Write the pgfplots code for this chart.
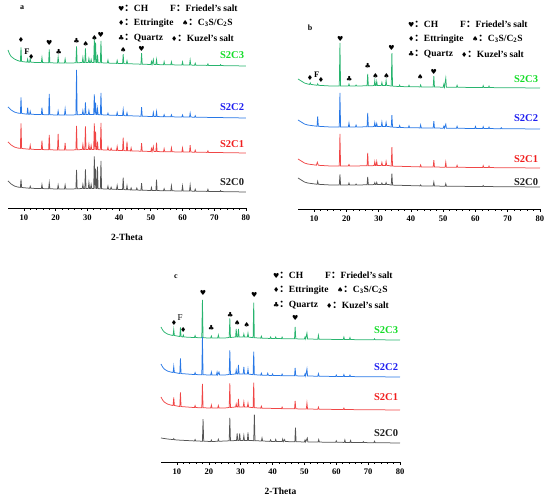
\documentclass[border=0pt]{standalone}
\usepackage{fontspec}
\setmainfont{Liberation Serif}
\newfontfamily\sym{DejaVu Sans}
\newfontfamily\cjk{Noto Sans CJK SC}
\usepackage{pgfplots}
\pgfplotsset{compat=1.18}
\definecolor{lg}{RGB}{40,180,110}
\definecolor{lb}{RGB}{40,120,230}
\definecolor{lr}{RGB}{240,70,70}
\definecolor{lk}{RGB}{85,85,85}
\definecolor{tg}{RGB}{20,220,40}
\definecolor{tb}{RGB}{30,30,240}
\definecolor{tr}{RGB}{240,30,30}
\definecolor{tk}{RGB}{30,30,30}
\pgfplotsset{xrd/.style={
  scale only axis, clip=false, xmin=5, xmax=80, ymin=0,
  axis x line*=bottom, axis y line=none,
  xtick={10,20,...,80}, minor x tick num=4,
  tick align=outside, major tick length=3pt, minor tick length=1.6pt,
  every tick/.style={black, line width=0.6pt},
  axis line style={black, line width=0.7pt},
  xticklabel style={font=\bfseries\fontsize{8.5}{9}\selectfont, yshift=-0.5pt},
  /pgf/number format/assume math mode=true,
  every axis plot/.append style={line width=0.75pt},
  xlabel style={font=\bfseries\fontsize{9.5}{10}\selectfont, at={(axis description cs:0.5,0)}, anchor=center, yshift=-29pt},
}}
\newcommand{\msym}[1]{{\sym\fontsize{7}{7}\selectfont #1}}
\newcommand{\lab}{\bfseries\fontsize{10.5}{11}\selectfont}
\newcommand{\xrdleg}[2]{%
  \begin{scope}[shift={(#1pt,#2pt)}, every node/.style={anchor=west, inner sep=0pt, font=\bfseries\fontsize{9.5}{10}\selectfont}]
    \node at (0pt,0pt) {\msym{♥}{\cjk：}CH};
    \node at (52pt,0pt) {F{\cjk：}Friedel's salt};
    \node at (0pt,-15pt) {\msym{♦}{\cjk：}Ettringite};
    \node at (64pt,-15pt) {\msym{♠}{\cjk：}C\textsubscript{3}S/C\textsubscript{2}S};
    \node at (0pt,-30pt) {\msym{♣}{\cjk：}Quartz};
    \node at (53pt,-30pt) {\msym{♦}{\cjk：}Kuzel's salt};
  \end{scope}}
\begin{document}
\begin{tikzpicture}
\useasboundingbox (0,0) rectangle (550pt,497pt);
% ================= panel a =================
\begin{axis}[xrd, at={(8pt,289pt)}, anchor=south west, width=238pt, height=208pt, ymax=208, xlabel={2-Theta}]
\addplot[lg, yshift=142pt] coordinates {(5,16)(5.5,12)(6,9.5)(7,7)(8,5.5)
(8.9,4.6)(9.1,18.5)(9.3,4.5)(11.0,3.8)(11.2,6.8)(11.4,3.8)(11.8,3.75)(12.0,7.7)(12.2,3.75)(14,3.5)
(15.5,3.4)(15.7,8.4)(15.9,3.4)(17.8,3.2)(18.0,16.7)(18.2,3.2)(20.6,3)(20.8,9)(21.0,3)
(22.8,3)(23.0,7)(23.2,3)(25,3)(26.4,3.2)(26.6,19.7)(26.8,3.2)(28.4,3.5)(28.6,8.5)(28.8,3.5)
(29.2,3.5)(29.4,17.5)(29.6,3.5)(30.3,3.5)(30.5,7.5)(30.7,3.5)(31.0,3.5)(31.2,6.5)(31.4,3.5)
(32.0,3.5)(32.2,27.5)(32.4,3.5)(32.6,23.4)(32.8,3.4)(33.0,3.4)(33.2,11.4)(33.4,3.4)
(34.1,3.2)(34.3,25.2)(34.5,3.2)(36.3,2.9)(36.5,5.9)(36.7,2.9)(39.2,2.6)(39.4,5.6)(39.6,2.6)
(41.1,2.4)(41.3,11.9)(41.5,2.4)(42.3,2.3)(42.5,5.3)(42.7,2.3)(46.9,1.8)(47.1,12.8)(47.3,1.8)
(50.0,1.5)(50.2,4.5)(50.4,1.5)(50.8,6.5)(51.0,1.45)(51.6,1.4)(51.8,6.4)(52.0,1.4)
(54.0,1.3)(54.2,4.3)(54.4,1.3)(56.3,1.15)(56.5,4.2)(56.7,1.15)(59.8,1)(60,4)(60.2,1)
(62.2,0.9)(62.4,5.9)(62.6,0.9)(63.8,0.8)(64,2.8)(64.2,0.8)(67.8,0.6)(68,2.1)(68.2,0.6)
(71.8,0.4)(72,1.4)(72.2,0.4)(80,0)};
\addplot[lb, yshift=90pt] coordinates {(5,11)(6,8)(7,6)(8,5)
(8.9,4.6)(9.1,20.5)(9.3,4.5)(11.0,3.8)(11.2,10.3)(11.4,3.8)(11.8,3.75)(12.0,6.7)(12.2,3.75)(14,3.5)
(15.5,3.4)(15.7,10.4)(15.9,3.4)(17.8,3.2)(18.0,24.2)(18.2,3.2)(20.6,3)(20.8,7)(21.0,3)
(22.8,3)(23.0,9)(23.2,3)(25,3)(26.4,3.2)(26.6,48.2)(26.8,3.2)(28.4,3.5)(28.6,7.5)(28.8,3.5)
(29.2,3.5)(29.4,15.5)(29.6,3.5)(30.3,3.5)(30.5,7.5)(30.7,3.5)
(32.0,3.5)(32.2,23.5)(32.4,3.5)(32.6,15.4)(32.8,3.4)(33.0,3.4)(33.2,9.4)(33.4,3.4)
(34.1,3.2)(34.3,25.2)(34.5,3.2)(36.3,2.9)(36.5,4.9)(36.7,2.9)(39.2,2.6)(39.4,5.6)(39.6,2.6)
(41.1,2.4)(41.3,8.4)(41.5,2.4)(42.3,2.3)(42.5,5.3)(42.7,2.3)(46.9,1.8)(47.1,10.8)(47.3,1.8)
(50.6,1.45)(50.8,5.5)(51.0,1.45)(51.6,1.4)(51.8,6.4)(52.0,1.4)(54.0,1.3)(54.2,3.3)(54.4,1.3)
(56.3,1.15)(56.5,3.2)(56.7,1.15)(59.8,1)(60,3)(60.2,1)(62.2,0.9)(62.4,4.9)(62.6,0.9)
(63.8,0.8)(64,2.3)(64.2,0.8)(80,0)};
\addplot[lr, yshift=55pt] coordinates {(5,11)(6,8)(7,6)(8,5)
(8.9,4.6)(9.1,29.5)(9.3,4.5)(11.8,3.75)(12.0,7.7)(12.2,3.75)(14,3.5)
(15.5,3.4)(15.7,12.4)(15.9,3.4)(17.8,3.2)(18.0,18.2)(18.2,3.2)(20.6,3)(20.8,19)(21.0,3)
(22.8,3)(23.0,10)(23.2,3)(25,3)(26.4,3.2)(26.6,27.2)(26.8,3.2)(28.4,3.5)(28.6,8.5)(28.8,3.5)
(29.2,3.5)(29.4,26.5)(29.6,3.5)(30.3,3.5)(30.5,8.5)(30.7,3.5)(31.0,3.5)(31.2,7.5)(31.4,3.5)
(32.0,3.5)(32.2,29.5)(32.4,3.5)(32.6,21.4)(32.8,3.4)(33.0,3.4)(33.2,11.4)(33.4,3.4)
(34.1,3.2)(34.3,30.2)(34.5,3.2)(36.3,2.9)(36.5,5.9)(36.7,2.9)(37.3,2.8)(37.5,4.8)(37.7,2.8)
(39.2,2.6)(39.4,6.6)(39.6,2.6)(41.1,2.4)(41.3,15.4)(41.5,2.4)(42.3,2.3)(42.5,11.3)(42.7,2.3)
(43.6,2.1)(43.8,5.1)(44.0,2.1)(46.9,1.8)(47.1,9.8)(47.3,1.8)
(50.0,1.5)(50.2,4.5)(50.4,1.5)(50.8,6.5)(51.0,1.45)(51.6,1.4)(51.8,10.4)(52.0,1.4)
(54.0,1.3)(54.2,4.3)(54.4,1.3)(56.3,1.15)(56.5,5.2)(56.7,1.15)(59.8,1)(60,5)(60.2,1)
(62.2,0.9)(62.4,7.9)(62.6,0.9)(63.8,0.8)(64,2.8)(64.2,0.8)(67.8,0.6)(68,2.1)(68.2,0.6)(80,0)};
\addplot[lk, yshift=16pt] coordinates {(5,11)(6,8)(7,6)(8,5)
(8.9,4.6)(9.1,12.5)(9.3,4.5)(11.8,3.75)(12.0,5.7)(12.2,3.75)(14,3.5)
(15.5,3.4)(15.7,7.4)(15.9,3.4)(17.8,3.2)(18.0,9.2)(18.2,3.2)(20.6,3)(20.8,7)(21.0,3)
(22.8,3)(23.0,7)(23.2,3)(25,3)(26.4,3.2)(26.6,22.2)(26.8,3.2)(28.4,3.5)(28.6,7.5)(28.8,3.5)
(29.2,3.5)(29.4,22.5)(29.6,3.5)(30.3,3.5)(30.5,9.5)(30.7,3.5)(31.0,3.5)(31.2,7.5)(31.4,3.5)
(32.0,3.5)(32.2,35.5)(32.4,3.5)(32.6,23.4)(32.8,3.4)(33.0,3.4)(33.2,25.4)(33.4,3.4)
(34.1,3.2)(34.3,31.2)(34.5,3.2)(36.3,2.9)(36.5,5.9)(36.7,2.9)(37.3,2.8)(37.5,4.8)(37.7,2.8)
(39.2,2.6)(39.4,6.6)(39.6,2.6)(41.1,2.4)(41.3,14.4)(41.5,2.4)(42.3,2.3)(42.5,6.3)(42.7,2.3)
(43.6,2.1)(43.8,4.1)(44.0,2.1)(45.4,1.9)(45.6,3.9)(45.8,1.9)(46.9,1.8)(47.1,8.8)(47.3,1.8)
(50.0,1.5)(50.2,4.5)(50.4,1.5)(51.6,1.4)(51.8,12.4)(52.0,1.4)(54.0,1.3)(54.2,3.3)(54.4,1.3)
(56.3,1.15)(56.5,6.2)(56.7,1.15)(59.8,1)(60,6)(60.2,1)(62.2,0.9)(62.4,6.9)(62.6,0.9)
(63.8,0.8)(64,2.8)(64.2,0.8)(67.8,0.6)(68,2.6)(68.2,0.6)(71.8,0.4)(72,1.4)(72.2,0.4)(80,0)};
\node[anchor=east, text=tg, font=\lab] at (axis cs:80.5,153) {S2C3};
\node[anchor=east, text=tb, font=\lab] at (axis cs:80.5,101) {S2C2};
\node[anchor=east, text=tr, font=\lab] at (axis cs:80.5,64) {S2C1};
\node[anchor=east, text=tk, font=\lab] at (axis cs:80.5,26) {S2C0};
\node at (axis cs:9.1,168) {\msym{♦}};
\node[font=\bfseries\fontsize{8.5}{9}\selectfont] at (axis cs:11.0,156) {F};
\node at (axis cs:12.3,151) {\msym{♦}};
\node at (axis cs:18.0,165) {\msym{♥}};
\node at (axis cs:21.0,156) {\msym{♣}};
\node at (axis cs:26.6,167) {\msym{♣}};
\node at (axis cs:29.5,164) {\msym{♠}};
\node at (axis cs:32.3,170) {\msym{♠}};
\node at (axis cs:34.2,173) {\msym{♥}};
\node at (axis cs:41.3,158) {\msym{♠}};
\node at (axis cs:47.1,159) {\msym{♥}};
\end{axis}
% ================= panel b =================
\begin{axis}[xrd, at={(298pt,288pt)}, anchor=south west, width=242pt, height=209pt, ymax=209]
\addplot[lg, yshift=121pt] coordinates {(5,9)(6,7)(7,5)(8,4)
(8.6,3.6)(8.8,5.1)(9.0,3.6)(10.9,2.7)(11.1,4.2)(11.3,2.7)(15,2)
(17.8,2)(18.0,45)(18.2,2)(20.6,2)(20.8,4)(21.0,2)(22.8,2)(23.0,3)(23.2,2)
(26.4,2.2)(26.6,14.2)(26.8,2.2)(28.6,2.4)(28.8,7.4)(29.0,2.4)(29.2,2.45)(29.4,6.5)(29.6,2.45)
(30.8,2.5)(31.0,5.5)(31.2,2.5)(32.1,2.5)(32.3,7.5)(32.5,2.5)(33,2.5)
(33.9,1.9)(34.1,34.9)(34.3,1.9)(36.3,1.45)(36.5,2.95)(36.7,1.45)(39.2,1.25)(39.4,2.75)(39.6,1.25)
(42.8,1.1)(43.0,3.1)(43.2,1.1)(46.9,0.93)(47.1,11.9)(47.3,0.93)
(50.0,0.83)(50.2,3.8)(50.4,0.83)(50.8,9.8)(51.0,0.8)(54.1,0.7)(54.3,2.7)(54.5,0.7)
(62.2,0.44)(62.4,2.4)(62.6,0.44)(64.0,0.4)(64.2,1.9)(64.4,0.4)(80,0)};
\addplot[lb, yshift=80pt] coordinates {(5,9)(6,7)(7,5)(8,4)
(10.9,2.7)(11.1,12.7)(11.3,2.7)(15,2)
(17.8,2)(18.0,36)(18.2,2)(20.6,2)(20.8,6)(21.0,2)(22.8,2)(23.0,4)(23.2,2)
(26.4,2.2)(26.6,16.2)(26.8,2.2)(28.6,2.4)(28.8,6.4)(29.0,2.4)(29.2,2.45)(29.4,5.5)(29.6,2.45)
(30.8,2.5)(31.0,7)(31.2,2.5)(32.1,2.5)(32.3,6.5)(32.5,2.5)(33,2.5)
(33.9,1.9)(34.1,13.9)(34.3,1.9)(36.3,1.45)(36.5,3.45)(36.7,1.45)(39.2,1.25)(39.4,3.25)(39.6,1.25)
(42.8,1.1)(43.0,4.1)(43.2,1.1)(46.9,0.93)(47.1,7.9)(47.3,0.93)
(50.0,0.83)(50.2,2.8)(50.4,0.83)(50.8,4.8)(51.0,0.8)(54.1,0.7)(54.3,2.7)(54.5,0.7)
(59.8,0.5)(60,2.5)(60.2,0.5)(62.2,0.44)(62.4,2.4)(62.6,0.44)(64.0,0.4)(64.2,1.9)(64.4,0.4)
(67.8,0.3)(68,1.3)(68.2,0.3)(80,0)};
\addplot[lr, yshift=41pt] coordinates {(5,9)(6,7)(7,5)(8,4)
(10.7,2.8)(11.0,5.7)(11.3,2.7)(15,2)
(17.8,2)(18.0,34)(18.2,2)(20.6,2)(20.8,3.5)(21.0,2)
(26.4,2.2)(26.6,15.2)(26.8,2.2)(28.6,2.4)(28.8,6.4)(29.0,2.4)(29.2,2.45)(29.4,6.5)(29.6,2.45)
(30.8,2.5)(31.0,5.5)(31.2,2.5)(32.1,2.5)(32.3,6.5)(32.5,2.5)(33,2.5)
(33.9,1.9)(34.1,20.9)(34.3,1.9)(42.8,1.1)(43.0,3.1)(43.2,1.1)(46.9,0.93)(47.1,7.9)(47.3,0.93)
(50.6,0.8)(50.8,5.8)(51.0,0.8)(54.1,0.7)(54.3,2.7)(54.5,0.7)
(62.2,0.44)(62.4,2.4)(62.6,0.44)(64.0,0.4)(64.2,1.9)(64.4,0.4)(80,0)};
\addplot[lk, yshift=22pt] coordinates {(5,9)(6,7)(7,5)(8,4)
(10.9,2.7)(11.1,5.7)(11.3,2.7)(15,2)
(17.8,2)(18.0,12.5)(18.2,2)(20.6,2)(20.8,4)(21.0,2)(22.8,2)(23.0,3)(23.2,2)
(26.4,2.2)(26.6,10.2)(26.8,2.2)(28.6,2.4)(28.8,4.4)(29.0,2.4)(29.2,2.45)(29.4,4.5)(29.6,2.45)
(30.8,2.5)(31.0,4)(31.2,2.5)(32.1,2.5)(32.3,4.5)(32.5,2.5)(33,2.5)
(33.9,1.9)(34.1,13.4)(34.3,1.9)(42.8,1.1)(43.0,2.1)(43.2,1.1)(46.9,0.93)(47.1,4.9)(47.3,0.93)
(50.6,0.8)(50.8,3.3)(51.0,0.8)(62.2,0.44)(62.4,1.4)(62.6,0.44)(80,0)};
\node[anchor=east, text=tg, font=\lab] at (axis cs:80.5,130) {S2C3};
\node[anchor=east, text=tb, font=\lab] at (axis cs:80.5,91) {S2C2};
\node[anchor=east, text=tr, font=\lab] at (axis cs:80.5,50) {S2C1};
\node[anchor=east, text=tk, font=\lab] at (axis cs:80.5,27) {S2C0};
\node at (axis cs:8.7,131) {\msym{♦}};
\node[font=\bfseries\fontsize{8.5}{9}\selectfont] at (axis cs:10.8,134) {F};
\node at (axis cs:12.1,129) {\msym{♦}};
\node at (axis cs:18.1,170) {\msym{♥}};
\node at (axis cs:20.9,130) {\msym{♣}};
\node at (axis cs:26.6,143) {\msym{♣}};
\node at (axis cs:29.0,133) {\msym{♠}};
\node at (axis cs:32.4,133) {\msym{♠}};
\node at (axis cs:34.0,161) {\msym{♥}};
\node at (axis cs:42.9,132) {\msym{♠}};
\node at (axis cs:47.1,137) {\msym{♥}};
\end{axis}
% ================= panel c =================
\begin{axis}[xrd, at={(161pt,35pt)}, anchor=south west, width=239pt, height=212pt, ymax=212, xlabel={2-Theta}]
\addplot[lg, yshift=122pt] coordinates {(5,13)(5.5,10)(6,8)(7,6)(8,5)
(8.8,4.5)(9.0,10.5)(9.2,4.5)(10.9,3.45)(11.1,12.5)(11.3,3.45)(11.8,3)(12.0,5)(12.2,3)
(15.5,2.43)(15.7,4.4)(15.9,2.43)(17.8,2.2)(18.0,40)(18.2,2.2)(20.6,2)(20.8,4)(21.0,2)
(22.8,2)(23.0,5)(23.2,2)(25,2)(26.4,2.5)(26.6,21.5)(26.8,2.5)(28.4,3)(28.6,11)(28.8,3)
(29.1,3)(29.3,11)(29.5,3)(30.8,3)(31.0,6)(31.2,3)(32.1,2.9)(32.3,6.9)(32.5,2.9)
(33.9,2.3)(34.1,37.3)(34.3,2.3)(36.3,1.85)(36.5,3.85)(36.7,1.85)(39.2,1.55)(39.4,3)(39.6,1.55)
(40.8,1.45)(41.0,3)(41.2,1.45)(42.8,1.35)(43.0,2.9)(43.2,1.35)(46.9,1.15)(47.1,13.2)(47.3,1.15)
(50.0,1)(50.2,3)(50.4,1)(50.8,7)(51.0,0.96)(54.2,0.8)(54.4,4.8)(54.6,0.8)
(62.2,0.44)(62.4,2.9)(62.6,0.44)(64.1,0.4)(64.3,2.4)(64.5,0.4)(71.8,0.2)(72,1.2)(72.2,0.2)(80,0)};
\addplot[lb, yshift=85pt] coordinates {(5,13)(5.5,10)(6,8)(7,6)(8,5)
(8.8,4.5)(9.0,10.5)(9.2,4.5)(10.9,3.45)(11.1,18.5)(11.3,3.45)
(15.5,2.43)(15.7,4.4)(15.9,2.43)(17.8,2.2)(18.0,40)(18.2,2.2)(20.6,2)(20.8,5)(21.0,2)
(22.4,2)(22.6,5)(22.8,2)(23.2,5)(23.4,2)(25,2)(26.4,2.5)(26.6,26.5)(26.8,2.5)(28.4,3)(28.6,7)(28.8,3)
(29.1,3)(29.3,12)(29.5,3)(30.8,3)(31.0,10)(31.2,3)(32.1,2.9)(32.3,7.9)(32.5,2.9)
(33.9,2.3)(34.1,25.3)(34.3,2.3)(36.3,1.85)(36.5,3.85)(36.7,1.85)(38.3,1.65)(38.5,3.65)(38.7,1.65)
(39.8,1.5)(40.0,3)(40.2,1.5)(42.8,1.35)(43.0,2.9)(43.2,1.35)(46.9,1.15)(47.1,9.2)(47.3,1.15)
(50.0,1)(50.2,3)(50.4,1)(50.8,8)(51.0,0.96)(54.2,0.8)(54.4,3.3)(54.6,0.8)
(59.8,0.5)(60,2)(60.2,0.5)(62.2,0.44)(62.4,2.4)(62.6,0.44)(64.1,0.4)(64.3,1.9)(64.5,0.4)(80,0)};
\addplot[lr, yshift=52pt] coordinates {(5,13)(5.5,10)(6,8)(7,6)(8,5)
(8.8,4.5)(9.0,12.5)(9.2,4.5)(10.9,3.45)(11.1,17.5)(11.3,3.45)
(15.5,2.43)(15.7,4.4)(15.9,2.43)(17.8,2.2)(18.0,26)(18.2,2.2)(20.6,2)(20.8,5)(21.0,2)
(22.8,2)(23.0,4.5)(23.2,2)(25,2)(26.4,2.5)(26.6,26.5)(26.8,2.5)(28.4,3)(28.6,6)(28.8,3)
(29.1,3)(29.3,11)(29.5,3)(30.8,3)(31.0,8)(31.2,3)(32.1,2.9)(32.3,6.9)(32.5,2.9)
(33.9,2.3)(34.1,27.3)(34.3,2.3)(36.3,1.85)(36.5,3.85)(36.7,1.85)(42.8,1.35)(43.0,2.9)(43.2,1.35)
(46.9,1.15)(47.1,9.2)(47.3,1.15)(50.6,0.96)(50.8,7)(51.0,0.96)(54.2,0.8)(54.4,2.8)(54.6,0.8)
(62.2,0.44)(62.4,1.9)(62.6,0.44)(80,0)};
\addplot[lk, yshift=19pt] coordinates {(5,5)(7,4)(8.8,3.4)(9.0,4.4)(9.2,3.3)(10,3)
(15.5,2.05)(15.7,3.5)(15.9,2)(18.0,1.8)(18.2,23.8)(18.4,1.8)(20.6,1.5)(20.8,3)(21.0,1.5)
(22.8,1.7)(23.0,3.7)(23.2,1.7)(26.4,2.2)(26.6,25.2)(26.8,2.2)(28.7,2.5)(28.9,9.5)(29.1,2.5)
(29.5,2.5)(29.7,9.5)(29.9,2.5)(30.8,2.5)(31.0,7.5)(31.2,2.5)(32.1,2.5)(32.3,10.5)(32.5,2.5)(33,2.5)
(34.1,2.3)(34.3,28.3)(34.5,2.3)(36.5,2)(36.7,5)(36.9,2)(39.2,1.6)(39.4,3.1)(39.6,1.6)
(40.8,1.5)(41.0,3.5)(41.2,1.5)(43.0,1.4)(43.2,3.9)(43.4,1.4)(43.8,3.4)(44.0,1.4)
(47.0,1.3)(47.2,15.3)(47.4,1.3)(50.0,1)(50.2,3)(50.4,1)(50.9,5)(51.1,1)
(54.3,0.9)(54.5,3.4)(54.7,0.9)(59.8,0.7)(60,2.2)(60.2,0.7)(62.5,0.6)(62.7,3.1)(62.9,0.6)
(64.3,0.55)(64.5,2.5)(64.7,0.55)(68.3,0.4)(68.5,1.4)(68.7,0.4)(71.8,0.3)(72,1.8)(72.2,0.3)(80,0)};
\node[anchor=east, text=tg, font=\lab] at (axis cs:80.5,132) {S2C3};
\node[anchor=east, text=tb, font=\lab] at (axis cs:80.5,95) {S2C2};
\node[anchor=east, text=tr, font=\lab] at (axis cs:80.5,65) {S2C1};
\node[anchor=east, text=tk, font=\lab] at (axis cs:80.5,29) {S2C0};
\node at (axis cs:9.1,139) {\msym{♦}};
\node[font=\fontsize{9}{9}\selectfont] at (axis cs:11.0,144) {F};
\node at (axis cs:12.0,132) {\msym{♦}};
\node at (axis cs:18.2,169) {\msym{♥}};
\node at (axis cs:20.8,134) {\msym{♣}};
\node at (axis cs:26.7,147) {\msym{♣}};
\node at (axis cs:28.9,139) {\msym{♠}};
\node at (axis cs:31.9,137) {\msym{♠}};
\node at (axis cs:34.3,167) {\msym{♥}};
\node at (axis cs:47.1,144) {\msym{♥}};
\end{axis}
% ================= texts =================
\node[font=\bfseries\fontsize{8}{8}\selectfont] at (22pt,489pt) {a};
\node[font=\bfseries\fontsize{8}{8}\selectfont] at (310pt,469pt) {b};
\node[font=\bfseries\fontsize{8}{8}\selectfont] at (176pt,220pt) {c};
\xrdleg{118}{489}
\xrdleg{408}{473}
\xrdleg{273}{222}
\end{tikzpicture}
\end{document}
